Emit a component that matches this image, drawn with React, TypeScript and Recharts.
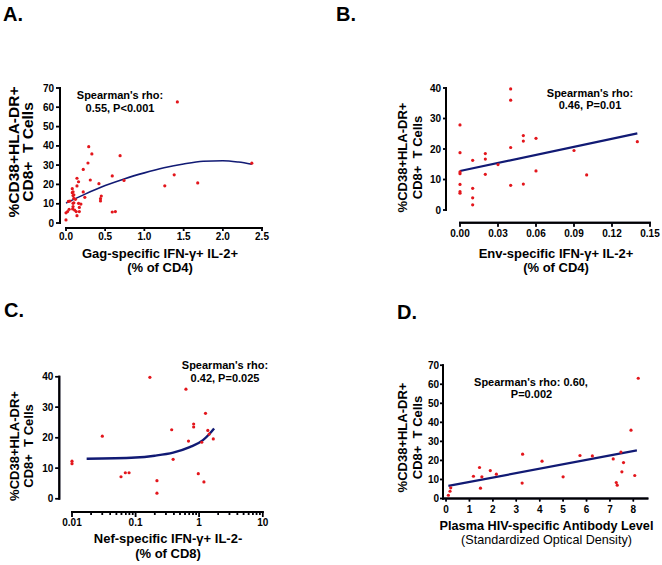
import React from 'react';
import { ComposedChart, Scatter, Line, XAxis, YAxis } from 'recharts';

const FONT = '"Liberation Sans", Arial, Helvetica, sans-serif';
const RED = '#e3161c';
const NAVY = '#111a74';
const AXIS_INK = '#14143c';

// A. Gag-specific IFN-γ+ IL-2+ (% of CD4)
const gagCd4 = [
    0.29, 0.33, 0.69, 0.28, 0.22, 0.14, 0.16, 0.31, 0.59, 0.74, 0.42, 0.14,
    0.08, 0.09, 0.08, 0.1, 0.09, 0.22, 0.24, 0.1, 0.12, 0.45, 0.44, 0.44,
    0.03, 0.05, 1.26, 0.09, 0.1, 0.16, 0.19, 0.17, 0.09, 0.085, 0.04, 0.02,
    0.0, 0.11, 0.13, 0.17, 0.14, 0.59, 0.63, 0.0, 1.38, 1.42, 1.68, 2.37
];
const gagActivated = [
    39.6, 35.8, 34.9, 31.1, 27.8, 23.2, 21.4, 22.3, 24.4, 22.1, 20.4, 19.2,
    17.8, 16.2, 15.7, 14.6, 14.2, 16.1, 13.3, 12.8, 12.3, 14.0, 12.6, 11.4,
    11.2, 11.4, 19.3, 10.2, 10.5, 10.2, 9.8, 8.1, 8.5, 7.3, 7.1, 5.9,
    5.3, 6.7, 5.9, 5.9, 3.8, 5.7, 5.9, 1.6, 25.0, 62.8, 20.8, 31.0
];
const gagFitX = [0, 0.25, 0.5, 0.75, 1.0, 1.25, 1.5, 1.75, 2.0, 2.2, 2.37];
const gagFitY = [10.3, 15.1, 19.4, 23.0, 26.0, 28.6, 30.6, 32.0, 32.3, 31.6, 30.5];
const gagXTicks = [0, 0.5, 1, 1.5, 2, 2.5];
const gagYTicks = [0, 10, 20, 30, 40, 50, 60, 70];

// B. Env-specific IFN-γ+ IL-2+ (% of CD4)
const envCd4 = [
    0, 0, 0, 0, 0, 0, 0, 0.01, 0.01, 0.01, 0.01, 0.02, 0.02, 0.02,
    0.03, 0.04, 0.04, 0.04, 0.04, 0.05, 0.05, 0.05, 0.06, 0.06, 0.09, 0.1, 0.14
];
const envActivated = [
    27.9, 18.8, 12.5, 11.9, 8.4, 6.0, 5.5, 16.3, 7.1, 4.0, 1.7, 18.5, 16.7, 11.7,
    14.9, 39.7, 36.0, 20.5, 8.1, 24.4, 22.6, 8.5, 23.5, 12.8, 19.5, 11.5, 22.4
];
const envFitX = [0, 0.14];
const envFitY = [12.8, 25.1];
const envXTicks = [0, 0.03, 0.06, 0.09, 0.12, 0.15];
const envYTicks = [0, 10, 20, 30, 40];

// C. Nef-specific IFN-γ+ IL-2- (% of CD8), log axis
const nefCd8 = [
    0.01, 0.01, 0.03, 0.059, 0.069, 0.079, 0.168, 0.217, 0.217, 0.37, 0.39,
    0.62, 0.68, 0.82, 0.82, 0.97, 1.1, 1.19, 1.26, 1.37, 1.44, 1.67
];
const nefActivated = [
    12.3, 11.5, 20.5, 7.2, 8.5, 8.5, 39.8, 5.9, 1.8, 22.6, 12.9,
    35.9, 18.9, 24.5, 23.5, 8.2, 18.5, 5.5, 28.0, 22.4, 21.2, 19.6
];
const nefFitX = [0.017, 0.1, 0.2, 0.39, 0.71, 1.15, 1.45, 1.72];
const nefFitY = [13.1, 13.5, 14.1, 15.1, 16.9, 19.2, 21.2, 23.0];
const nefMajorTicks = [0.01, 0.1, 1, 10];
const nefMinorTicks = [
    0.02, 0.03, 0.04, 0.05, 0.06, 0.07, 0.08, 0.09,
    0.2, 0.3, 0.4, 0.5, 0.6, 0.7, 0.8, 0.9,
    2, 3, 4, 5, 6, 7, 8, 9
];
const nefYTicks = [0, 10, 20, 30, 40];

// D. Plasma HIV-specific antibody level (standardized OD)
const antibodyOd = [
    0.1, 0.17, 0.2, 1.17, 1.43, 1.47, 1.53, 1.89, 2.15, 3.25, 3.27, 4.1,
    5.0, 5.72, 6.25, 7.14, 7.27, 7.31, 7.47, 7.51, 7.58, 7.9, 8.06, 8.21
];
const antibodyActivated = [
    1.7, 3.8, 5.6, 11.7, 16.3, 5.4, 11.4, 14.7, 12.8, 8.1, 23.3, 19.6,
    11.4, 22.6, 22.4, 20.8, 8.4, 7.0, 24.4, 14.0, 18.9, 35.9, 12.1, 63.2
];
const antibodyFitX = [0.1, 8.15];
const antibodyFitY = [6.6, 25.3];
const antibodyXTicks = [0, 1, 2, 3, 4, 5, 6, 7, 8];
const antibodyYTicks = [0, 10, 20, 30, 40, 50, 60, 70];

const toPoints = (xs: number[], ys: number[]) => xs.map((x, i) => ({ x, y: ys[i] }));
const onX = (xs: number[], y: number) => xs.map((x) => ({ x, y }));
const onY = (ys: number[], x: number) => ys.map((y) => ({ x, y }));

const TICK_TEXT = { fill: '#000', fontSize: 10, fontWeight: 700, fontFamily: FONT };

const RedDot = (p: any) => <circle cx={p.cx} cy={p.cy} r={1.6} fill={RED} />;

// a stroke drawn twice: dark navy underneath, black on top
const Ink = ({ d, w }: { d: string; w: number }) => (
    <g>
        <path d={d} stroke={AXIS_INK} strokeWidth={w} fill="none" />
        <path d={d} stroke="#000" strokeWidth={w} fill="none" />
    </g>
);

// Axis frame and tick marks are scatter symbols placed by the chart's scales,
// so the axes can sit detached from the plot area (GraphPad style).
const frame = (gapX: number, gapY: number, w: number, h: number) => (p: any) => (
    <g>
        <Ink d={`M${p.cx - gapY},${p.cy + 1}V${p.cy - h - 1}`} w={2} />
        <Ink d={`M${p.cx - 1},${p.cy + gapX}H${p.cx + w + 1}`} w={2} />
    </g>
);
const xMark = (gap: number, len: number) => (p: any) => <Ink d={`M${p.cx},${p.cy + gap}v${len}`} w={1.5} />;
const yMark = (gap: number, len: number) => (p: any) => <Ink d={`M${p.cx - gap},${p.cy}h${-len}`} w={1.5} />;

// tick labels only (marks come from the scatter symbols above)
const YLabel = ({ x, y, payload, off }: any) => (
    <text x={x - off} y={y} dy="0.36em" textAnchor="end" style={TICK_TEXT}>{payload.value}</text>
);
const XLabel = ({ x, y, payload, off, digits = -1 }: any) => (
    <text x={x} y={y + off} dy="0.72em" textAnchor="middle" style={TICK_TEXT}>
        {digits >= 0 ? Number(payload.value).toFixed(digits) : String(payload.value)}
    </text>
);

const axisProps = { axisLine: false, tickLine: false, tickSize: 0, tickMargin: 0, interval: 0 } as any;
const still = { isAnimationActive: false } as any;

const Txt = ({ x, y, size = 11, weight = 700, anchor = 'middle', rotate = false, children }: any) => (
    <text
        x={x}
        y={y}
        textAnchor={anchor}
        transform={rotate ? `rotate(-90 ${x} ${y})` : undefined}
        style={{ fontFamily: FONT, fontSize: size, fontWeight: weight, fill: '#000', whiteSpace: 'pre' }}
    >
        {children}
    </text>
);

export default function App() {
    return (
        <div style={{ position: 'absolute', left: 0, top: 0, width: 662, height: 565, background: '#fff' }}>

            {/* A */}
            <div style={{ position: 'absolute', left: 0, top: 0 }}>
                <ComposedChart width={331} height={282} margin={{ top: 88, right: 69, bottom: 39, left: 36 }}>
                    <XAxis type="number" dataKey="x" domain={[0, 2.5]} ticks={gagXTicks} height={20} {...axisProps}
                        tick={<XLabel off={10} digits={1} />} />
                    <YAxis type="number" dataKey="y" domain={[0, 70]} ticks={gagYTicks} width={30} {...axisProps}
                        tick={<YLabel off={12} />} />
                    <Scatter data={[{ x: 0, y: 0 }]} shape={frame(5, 6, 196, 135)} {...still} />
                    <Scatter data={onX(gagXTicks, 0)} shape={xMark(5, 3)} {...still} />
                    <Scatter data={onY(gagYTicks, 0)} shape={yMark(6, 4)} {...still} />
                    <Scatter data={toPoints(gagCd4, gagActivated)} shape={RedDot} {...still} />
                    <Line data={toPoints(gagFitX, gagFitY)} dataKey="y" type="monotone" stroke={NAVY}
                        strokeWidth={1.6} dot={false} activeDot={false} {...still} />
                </ComposedChart>
            </div>

            {/* B */}
            <div style={{ position: 'absolute', left: 331, top: 0 }}>
                <ComposedChart width={331} height={282} margin={{ top: 88, right: 12, bottom: 52, left: 99 }}>
                    <XAxis type="number" dataKey="x" domain={[0, 0.15]} ticks={envXTicks} height={20} {...axisProps}
                        tick={<XLabel off={19.7} digits={2} />} />
                    <YAxis type="number" dataKey="y" domain={[0, 40]} ticks={envYTicks} width={30} {...axisProps}
                        tick={<YLabel off={19} />} />
                    <Scatter data={[{ x: 0, y: 0 }]} shape={frame(12.7, 14, 190, 122)} {...still} />
                    <Scatter data={onX(envXTicks, 0)} shape={xMark(12.7, 4)} {...still} />
                    <Scatter data={onY(envYTicks, 0)} shape={yMark(14, 3)} {...still} />
                    <Scatter data={toPoints(envCd4, envActivated)} shape={RedDot} {...still} />
                    <Line data={toPoints(envFitX, envFitY)} dataKey="y" type="linear" stroke={NAVY}
                        strokeWidth={2.2} dot={false} activeDot={false} {...still} />
                </ComposedChart>
            </div>

            {/* C */}
            <div style={{ position: 'absolute', left: 0, top: 282 }}>
                <ComposedChart width={331} height={283} margin={{ top: 94.7, right: 68.3, bottom: 46.3, left: 42 }}>
                    <XAxis type="number" dataKey="x" scale="log" domain={[0.01, 10]} ticks={nefMajorTicks} height={20}
                        {...axisProps} tick={<XLabel off={20.3} />} />
                    <YAxis type="number" dataKey="y" domain={[0, 40]} ticks={nefYTicks} width={30} {...axisProps}
                        tick={<YLabel off={18.7} />} />
                    <Scatter data={[{ x: 0.01, y: 0 }]} shape={frame(13.3, 12.7, 190.7, 122)} {...still} />
                    <Scatter data={onX(nefMajorTicks, 0)} shape={xMark(13.3, 5)} {...still} />
                    <Scatter data={onX(nefMinorTicks, 0)} shape={xMark(13.3, 3)} {...still} />
                    <Scatter data={onY(nefYTicks, 0.01)} shape={yMark(12.7, 4)} {...still} />
                    <Scatter data={toPoints(nefCd8, nefActivated)} shape={RedDot} {...still} />
                    <Line data={toPoints(nefFitX, nefFitY)} dataKey="y" type="monotone" stroke={NAVY}
                        strokeWidth={2.4} dot={false} activeDot={false} {...still} />
                </ComposedChart>
            </div>

            {/* D */}
            <div style={{ position: 'absolute', left: 331, top: 282 }}>
                <ComposedChart width={331} height={283} margin={{ top: 83.3, right: 14.6, bottom: 46.5, left: 82 }}>
                    <XAxis type="number" dataKey="x" domain={[-0.13, 8.6]} ticks={antibodyXTicks} height={20}
                        {...axisProps} tick={<XLabel off={7} />} />
                    <YAxis type="number" dataKey="y" domain={[0, 70]} ticks={antibodyYTicks} width={30} {...axisProps}
                        tick={<YLabel off={4} />} />
                    <Scatter data={[{ x: -0.13, y: 0 }]} shape={frame(0, 0, 204.4, 133.2)} {...still} />
                    <Scatter data={onX(antibodyXTicks, 0)} shape={xMark(0, 3)} {...still} />
                    <Scatter data={onY(antibodyYTicks, -0.13)} shape={yMark(0, 3)} {...still} />
                    <Scatter data={toPoints(antibodyOd, antibodyActivated)} shape={RedDot} {...still} />
                    <Line data={toPoints(antibodyFitX, antibodyFitY)} dataKey="y" type="linear" stroke={NAVY}
                        strokeWidth={2.2} dot={false} activeDot={false} {...still} />
                </ComposedChart>
            </div>

            {/* Titles, annotations and axis titles */}
            <svg width={662} height={565} style={{ position: 'absolute', left: 0, top: 0, pointerEvents: 'none' }}>
                <Txt x={3} y={21} size={20} anchor="start">A.</Txt>
                <Txt x={336} y={21} size={20} anchor="start">B.</Txt>
                <Txt x={4} y={317} size={20} anchor="start">C.</Txt>
                <Txt x={397} y={319} size={20} anchor="start">D.</Txt>

                <Txt x={120} y={98.5}>Spearman's rho:</Txt>
                <Txt x={120} y={111.5}>0.55, P&lt;0.001</Txt>
                <Txt x={590} y={96.5}>Spearman's rho:</Txt>
                <Txt x={590} y={109}>0.46, P=0.01</Txt>
                <Txt x={225} y={369}>Spearman's rho:</Txt>
                <Txt x={225} y={381.5}>0.42, P=0.025</Txt>
                <Txt x={531} y={385.5}>Spearman's rho: 0.60,</Txt>
                <Txt x={531.5} y={398}>P=0.002</Txt>

                <Txt x={160} y={257.5} size={13}>Gag-specific IFN-γ+ IL-2+</Txt>
                <Txt x={160} y={271.5} size={13}>(% of CD4)</Txt>
                <Txt x={556} y={257.5} size={13}>Env-specific IFN-γ+ IL-2+</Txt>
                <Txt x={556} y={271.5} size={13}>(% of CD4)</Txt>
                <Txt x={168} y={543} size={13}>Nef-specific IFN-γ+ IL-2-</Txt>
                <Txt x={168} y={557.5} size={13}>(% of CD8)</Txt>
                <Txt x={546.5} y={530} size={12.7}>Plasma HIV-specific Antibody Level</Txt>
                <Txt x={546.5} y={544} size={12.6} weight={400}>(Standardized Optical Density)</Txt>

                <Txt x={18.5} y={152} size={15.5} rotate>%CD38+HLA-DR+</Txt>
                <Txt x={33.3} y={152} size={15.5} rotate>CD8+  T Cells</Txt>
                <Txt x={407.3} y={157.5} size={13} rotate>%CD38+HLA-DR+</Txt>
                <Txt x={421.7} y={157.5} size={13} rotate>CD8+  T Cells</Txt>
                <Txt x={19} y={446} size={13} rotate>%CD38+HLA-DR+</Txt>
                <Txt x={33.3} y={446} size={13} rotate>CD8+  T Cells</Txt>
                <Txt x={407.3} y={437.5} size={13} rotate>%CD38+HLA-DR+</Txt>
                <Txt x={421.7} y={437.5} size={13} rotate>CD8+  T Cells</Txt>
            </svg>
        </div>
    );
}
